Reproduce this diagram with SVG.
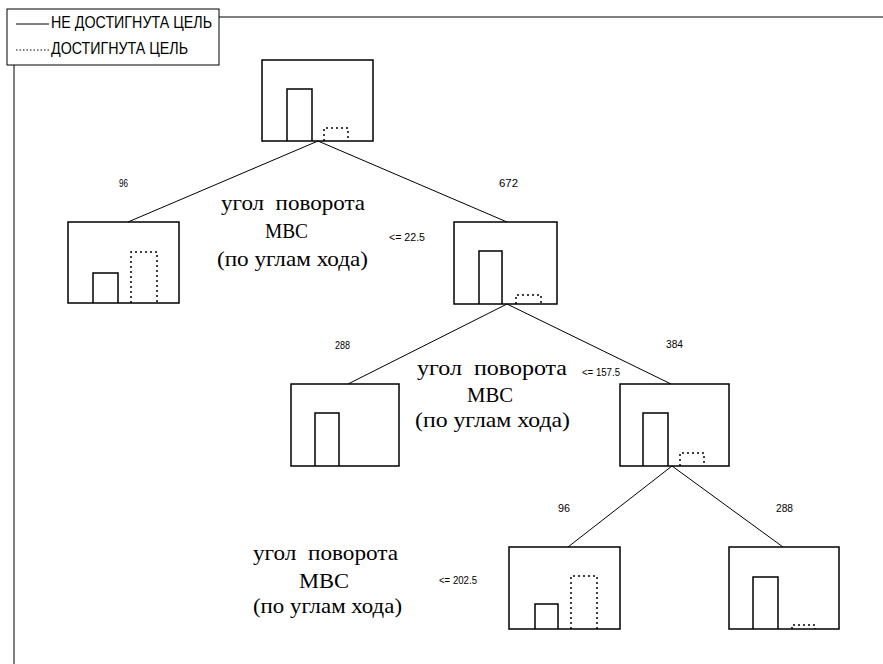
<svg xmlns="http://www.w3.org/2000/svg" width="883" height="664" viewBox="0 0 883 664">
<style>
.box{fill:none;stroke:#000;stroke-width:1.5}
.bar{fill:none;stroke:#000;stroke-width:1.5}
.dot{fill:none;stroke:#000;stroke-width:1.5;stroke-dasharray:2 3}
.con{fill:none;stroke:#000;stroke-width:1}
.frame{fill:none;stroke:#000;stroke-width:1}
.cond{font-family:"Liberation Sans",Arial,sans-serif;fill:#000}
.lbl{font-family:"Liberation Sans",Arial,sans-serif;font-size:10px;fill:#000}
.big{font-family:"Liberation Serif","Times New Roman",Times,Tinos,"DejaVu Serif","Noto Serif",FreeSerif,"Noto Serif CJK SC",serif;font-size:21px;fill:#000}
</style>
<rect width="883" height="664" fill="#fff"/>
<g id="frame">
<line class="frame" x1="219" y1="17" x2="883" y2="17"/>
<line class="frame" x1="14" y1="65" x2="14" y2="664"/>
</g>
<g id="legend">
<rect class="frame" x="7" y="9" width="212" height="56"/>
<line x1="16" y1="24" x2="49" y2="24" stroke="#000" stroke-width="1"/>
<line x1="16" y1="50" x2="49" y2="50" stroke="#000" stroke-width="1" stroke-dasharray="1.5 2"/>
<text class="cond" x="51" y="28" font-size="16" textLength="161" lengthAdjust="spacingAndGlyphs">НЕ ДОСТИГНУТА ЦЕЛЬ</text>
<text class="cond" x="51" y="54" font-size="16" textLength="137" lengthAdjust="spacingAndGlyphs">ДОСТИГНУТА ЦЕЛЬ</text>
</g>
<g id="connectors">
<line class="con" x1="318" y1="141" x2="128" y2="222"/>
<line class="con" x1="318" y1="141" x2="507" y2="222"/>
<line class="con" x1="507" y1="304" x2="348" y2="384"/>
<line class="con" x1="507" y1="304" x2="671" y2="384"/>
<line class="con" x1="672" y1="466" x2="568" y2="547"/>
<line class="con" x1="672" y1="466" x2="783" y2="547"/>
</g>
<g id="labels">
<text class="lbl" x="119" y="187" textLength="9" lengthAdjust="spacingAndGlyphs">96</text>
<text class="lbl" x="499" y="187" textLength="19" lengthAdjust="spacingAndGlyphs">672</text>
<text class="lbl" x="335" y="349" textLength="15" lengthAdjust="spacingAndGlyphs">288</text>
<text class="lbl" x="666" y="348" textLength="17" lengthAdjust="spacingAndGlyphs">384</text>
<text class="lbl" x="558" y="512" textLength="12" lengthAdjust="spacingAndGlyphs">96</text>
<text class="lbl" x="776" y="512" textLength="17" lengthAdjust="spacingAndGlyphs">288</text>
<text class="lbl" x="389" y="241" textLength="36" lengthAdjust="spacingAndGlyphs">&lt;= 22.5</text>
<text class="lbl" x="582" y="376" textLength="38" lengthAdjust="spacingAndGlyphs">&lt;= 157.5</text>
<text class="lbl" x="439" y="584" textLength="38" lengthAdjust="spacingAndGlyphs">&lt;= 202.5</text>
</g>
<g id="split1">
<text class="big" x="221" y="210" textLength="144" lengthAdjust="spacingAndGlyphs" xml:space="preserve">угол  поворота</text>
<text class="big" x="265" y="238" textLength="43" lengthAdjust="spacingAndGlyphs">МВС</text>
<text class="big" x="217" y="266" textLength="151" lengthAdjust="spacingAndGlyphs">(по углам хода)</text>
</g>
<g id="split2">
<text class="big" x="417" y="375" textLength="150" lengthAdjust="spacingAndGlyphs" xml:space="preserve">угол  поворота</text>
<text class="big" x="467" y="402" textLength="46" lengthAdjust="spacingAndGlyphs">МВС</text>
<text class="big" x="415" y="427" textLength="155" lengthAdjust="spacingAndGlyphs">(по углам хода)</text>
</g>
<g id="split3">
<text class="big" x="253" y="560" textLength="145" lengthAdjust="spacingAndGlyphs" xml:space="preserve">угол  поворота</text>
<text class="big" x="299" y="588" textLength="50" lengthAdjust="spacingAndGlyphs">МВС</text>
<text class="big" x="253" y="613" textLength="149" lengthAdjust="spacingAndGlyphs">(по углам хода)</text>
</g>
<g id="node-root">
<rect class="box" x="262" y="60" width="111" height="81"/>
<polyline class="bar" points="287,141 287,89 312,89 312,141"/>
<polyline class="dot" points="324,141 324,128 348,128 348,141"/>
</g>
<g id="node-96">
<rect class="box" x="68" y="222" width="111" height="81"/>
<polyline class="bar" points="93,303 93,273 118,273 118,303"/>
<polyline class="dot" points="131,303 131,252 157,252 157,303"/>
</g>
<g id="node-672">
<rect class="box" x="454" y="222" width="103" height="82"/>
<polyline class="bar" points="479,304 479,251 502,251 502,304"/>
<polyline class="dot" points="516,304 516,295 541,295 541,304"/>
</g>
<g id="node-288">
<rect class="box" x="291" y="384" width="108" height="82"/>
<polyline class="bar" points="315,466 315,413 339,413 339,466"/>
</g>
<g id="node-384">
<rect class="box" x="620" y="384" width="109" height="82"/>
<polyline class="bar" points="643,466 643,413 668,413 668,466"/>
<polyline class="dot" points="680,466 680,453 704,453 704,466"/>
</g>
<g id="node-96b">
<rect class="box" x="509" y="547" width="111" height="82"/>
<polyline class="bar" points="535,629 535,604 558,604 558,629"/>
<polyline class="dot" points="571,629 571,576 597,576 597,629"/>
</g>
<g id="node-288b">
<rect class="box" x="729" y="547" width="110" height="82"/>
<polyline class="bar" points="753,629 753,577 778,577 778,629"/>
<polyline class="dot" points="792,629 792,625 815,625 815,629"/>
</g>
</svg>
